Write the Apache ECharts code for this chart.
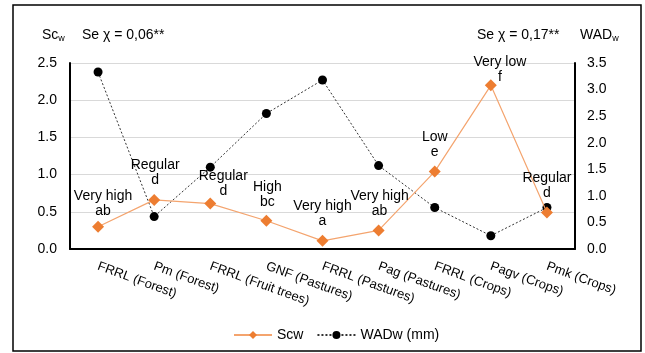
<!DOCTYPE html>
<html><head><meta charset="utf-8">
<script src="https://cdn.jsdelivr.net/npm/echarts@6/dist/echarts.min.js"></script>
<style>html,body{margin:0;padding:0;background:#fff}#c{width:645px;height:353px}</style>
</head><body><div id="c"></div>
<script>
const categories = ['FRRL (Forest)','Pm (Forest)','FRRL (Fruit trees)','GNF (Pastures)','FRRL (Pastures)','Pag (Pastures)','FRRL (Crops)','Pagv (Crops)','Pmk (Crops)'];
const scw = [0.30, 0.66, 0.61, 0.38, 0.11, 0.25, 1.04, 2.20, 0.49];
const wadw = [3.33, 0.61, 1.54, 2.55, 3.18, 1.57, 0.78, 0.25, 0.78];
const classes = ['Very high','Regular','Regular','High','Very high','Very high','Low','Very low','Regular'];
const letters = ['ab','d','d','bc','a','ab','e','f','d'];
const leftTicks = [0, 2.5, 0.5];
const rightTicks = [0, 3.5, 0.5];
const labelOffsets = [[5,3],[1,-1],[13,6],[1,0],[0,-1],[1,-1],[0,-1],[9,10],[0,-1]];

const FONT = 'Liberation Sans, Arial, sans-serif';
const chart = echarts.init(document.getElementById('c'));
chart.setOption({
  animation: false,
  backgroundColor: '#fff',
  grid: {left: 70, right: 70, top: 63, bottom: 104},
  legend: {
    bottom: 6, left: 228, itemWidth: 38, itemHeight: 10, itemGap: 13,
    textStyle: {fontFamily: FONT, fontSize: 14, color: '#000'},
    data: ['Scw','WADw (mm)']
  },
  xAxis: {
    type: 'category', data: categories,
    axisLine: {lineStyle: {color: '#000', width: 2}},
    axisTick: {alignWithLabel: true, inside: true, length: 3, lineStyle: {color: '#000'}},
    axisLabel: {rotate: -20, fontFamily: FONT, fontSize: 13, color: '#000', margin: 17, interval: 0}
  },
  yAxis: [{
    type: 'value', min: leftTicks[0], max: leftTicks[1], interval: leftTicks[2],
    axisLine: {show: true, lineStyle: {color: '#000', width: 2}},
    axisTick: {show: false},
    splitLine: {lineStyle: {color: '#d9d9d9', width: 1}},
    axisLabel: {formatter: v => v.toFixed(1), fontFamily: FONT, fontSize: 14, color: '#000', margin: 13}
  },{
    type: 'value', min: rightTicks[0], max: rightTicks[1], interval: rightTicks[2],
    position: 'right',
    axisLine: {show: true, lineStyle: {color: '#000', width: 2}},
    axisTick: {show: false},
    splitLine: {show: false},
    axisLabel: {formatter: v => v.toFixed(1), fontFamily: FONT, fontSize: 14, color: '#000', margin: 12}
  }],
  series: [{
    name: 'WADw (mm)', type: 'line', yAxisIndex: 1, data: wadw,
    symbol: 'circle', symbolSize: 9,
    itemStyle: {color: '#000'},
    lineStyle: {color: '#333', width: 1, type: [2, 2]},
    z: 2
  },{
    name: 'Scw', type: 'line', yAxisIndex: 0,
    data: scw.map((v, i) => ({
      value: v,
      label: {show: true, position: 'top', distance: 5, offset: labelOffsets[i],
        formatter: classes[i] + '\n' + letters[i],
        fontFamily: FONT, fontSize: 14, color: '#000', lineHeight: 15, align: 'center'}
    })),
    symbol: 'diamond', symbolSize: 12,
    itemStyle: {color: '#ED7D31'},
    lineStyle: {color: '#F4A46E', width: 1.2},
    z: 3
  }],
  graphic: [
    {type: 'rect', shape: {x: 13, y: 5, width: 628, height: 346}, style: {fill: 'none', stroke: '#000', lineWidth: 1.5}, silent: true},
    {type: 'text', left: 42, top: 28, style: {text: '{a|Sc}{s|w}', rich: {a: {fontFamily: FONT, fontSize: 14, fill: '#000'}, s: {fontFamily: FONT, fontSize: 9, fill: '#000', padding: [8,0,0,0]}}}},
    {type: 'text', left: 82, top: 28, style: {text: 'Se χ = 0,06**', fontFamily: FONT, fontSize: 14, fill: '#000'}},
    {type: 'text', left: 477, top: 28, style: {text: 'Se χ = 0,17**', fontFamily: FONT, fontSize: 14, fill: '#000'}},
    {type: 'text', left: 580, top: 28, style: {text: '{a|WAD}{s|w}', rich: {a: {fontFamily: FONT, fontSize: 14, fill: '#000'}, s: {fontFamily: FONT, fontSize: 9, fill: '#000', padding: [8,0,0,0]}}}}
  ]
});
</script></body></html>
